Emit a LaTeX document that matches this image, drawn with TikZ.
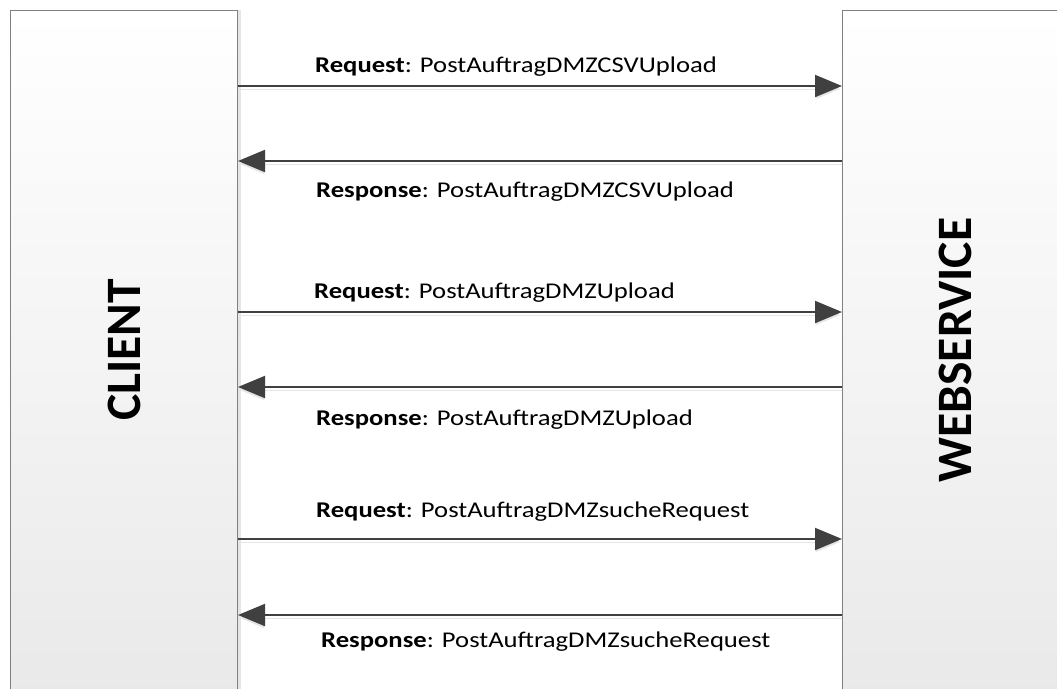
\documentclass[tikz,border=0pt]{standalone}
\usepackage{fontspec}
\setmainfont{Carlito}
\usetikzlibrary{arrows.meta, shadows}
\tikzstyle{party} = [rectangle,
anchor=north west,
inner sep=0pt,
minimum width=227pt,
minimum height=720pt,
line width=1pt,
draw=black!50,
top color=white,
bottom color=black!9,
drop shadow={shadow xshift=3pt, shadow yshift=0pt, fill=black!10, opacity=1}]
\tikzstyle{partyname} = [rotate=90, font=\fontsize{49.5}{55}\selectfont\bfseries]
\tikzstyle{msgarrow} = [line width=2pt, draw=black!75,
-{Triangle[length=27pt, width=22pt]},
preaction={draw=black!10, transform canvas={yshift=-3pt}}]
\tikzstyle{msglabel} = [anchor=base west, inner sep=0pt,
font=\fontsize{22.5}{26}\selectfont]
\newcommand{\msgtext}[2]{\scalebox{1.184}[1]{\textbf{#1}: #2}}

\begin{document}
\begin{tikzpicture}[x=1pt, y=-1pt]
  \useasboundingbox (0,0) rectangle (1057,688);

  \node (client) [party] at (10,9.5) {};
  \node (webservice) [party] at (842,9.5) {};
  \node (clientname) [partyname] at (124,350) {CLIENT};
  \node (webservicename) [partyname] at (955,350) {WEBSERVICE};

  % messages
  \draw [msgarrow] (client.east |- 0,86) -- (webservice.west |- 0,86);
  \draw [msgarrow] (webservice.west |- 0,161) -- (client.east |- 0,161);
  \draw [msgarrow] (client.east |- 0,312) -- (webservice.west |- 0,312);
  \draw [msgarrow] (webservice.west |- 0,387) -- (client.east |- 0,387);
  \draw [msgarrow] (client.east |- 0,539) -- (webservice.west |- 0,539);
  \draw [msgarrow] (webservice.west |- 0,615) -- (client.east |- 0,615);

  \node (req1) [msglabel] at (315,72) {\msgtext{Request}{PostAuftragDMZCSVUpload}};
  \node (resp1) [msglabel] at (316,197) {\msgtext{Response}{PostAuftragDMZCSVUpload}};
  \node (req2) [msglabel] at (314,298) {\msgtext{Request}{PostAuftragDMZUpload}};
  \node (resp2) [msglabel] at (316,425) {\msgtext{Response}{PostAuftragDMZUpload}};
  \node (req3) [msglabel] at (316,517) {\msgtext{Request}{PostAuftragDMZsucheRequest}};
  \node (resp3) [msglabel] at (321,647) {\msgtext{Response}{PostAuftragDMZsucheRequest}};

\end{tikzpicture}
\end{document}
